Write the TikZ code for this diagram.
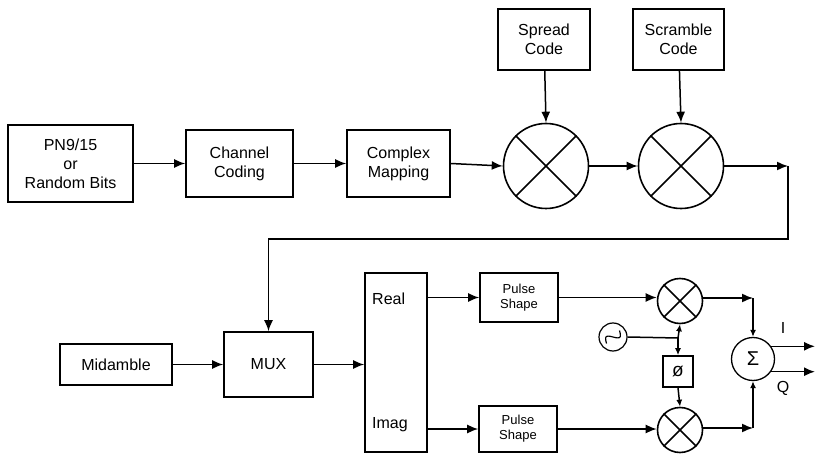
\documentclass[tikz,border=0pt]{standalone}
\usepackage{fontspec}
\setmainfont{Liberation Sans}
\usetikzlibrary{arrows.meta,calc}
\begin{document}
\begin{tikzpicture}[x=1pt,y=-1pt,
  box/.style={draw,line width=1.6pt,inner sep=0pt,align=center,font=\fontsize{16}{19}\selectfont},
  smallbox/.style={box,font=\fontsize{13}{15}\selectfont},
  mixer/.style={draw,circle,line width=1.6pt,inner sep=0pt},
  lbl/.style={font=\fontsize{16}{18}\selectfont,inner sep=0pt},
  arr/.style={line width=1.5pt,-{Latex[length=11pt,width=9pt]}},
  sarr/.style={line width=1.5pt,-{Latex[length=7pt,width=6pt]}},
  ln/.style={line width=1.5pt}]
\useasboundingbox (0,0) rectangle (816,454);

% top row
\node[box,minimum width=125pt,minimum height=77pt] (pn) at (70.5,163.5) {PN9/15\\or\\Random Bits};
\node[box,minimum width=107pt,minimum height=67pt] (cc) at (239.5,163.5) {Channel\\Coding};
\node[box,minimum width=103pt,minimum height=67pt] (cm) at (398.5,163.5) {Complex\\Mapping};
\node[box,minimum width=92pt,minimum height=61pt] (spread) at (544,39.5) {Spread\\Code};
\node[box,minimum width=91pt,minimum height=61pt] (scramble) at (678.5,39.5) {Scramble\\Code};
\node[mixer,minimum size=85pt] (m1) at (546,166) {};
\node[mixer,minimum size=85pt] (m2) at (681,166) {};

% bottom row
\node[box,minimum width=112pt,minimum height=41pt] (mid) at (116,364.5) {Midamble};
\node[box,minimum width=89pt,minimum height=65pt] (mux) at (268.5,364.5) {MUX};
\node[box,minimum width=62pt,minimum height=179pt] (big) at (396,362.5) {};
\node[lbl,anchor=west] (real) at (372,299) {Real};
\node[lbl,anchor=west] (imag) at (372,425) {Imag};
\node[smallbox,minimum width=78pt,minimum height=49pt] (ps1) at (519,297.5) {Pulse\\Shape};
\node[smallbox,minimum width=78pt,minimum height=46pt] (ps2) at (518,429) {Pulse\\Shape};
\node[mixer,minimum size=45pt] (mx3) at (680,301) {};
\node[mixer,minimum size=45pt] (mx4) at (680,430) {};
\node[mixer,line width=1.3pt,minimum size=43pt,font=\fontsize{20}{20}\selectfont] (sig) at (753,359) {Σ};
\node[mixer,line width=1.2pt,minimum size=28pt] (osc) at (613,337) {};
\node[box,minimum width=30pt,minimum height=31pt,font=\fontsize{19}{19}\selectfont] (ph) at (678,371.5) {ø};
\node[lbl] (ilbl) at (783,328) {I};
\node[lbl] (qlbl) at (783,388) {Q};

% mixer crosses
\foreach \m in {m1,m2,mx3,mx4}{
  \draw[line width=1.6pt] (\m.north west) -- (\m.south east);
  \draw[line width=1.6pt] (\m.south west) -- (\m.north east);
}
% oscillator wave (diagonal sine, lower-left to upper-right)
\draw[line width=1.2pt,shift={(osc.center)}] plot[domain=-1:1,samples=30,smooth]
  ({6.5*\x + 3.5*sin(180*\x)}, {-6.5*\x + 3.5*sin(180*\x)});

% coordinates
\coordinate (c1) at (788,166);
\coordinate (c2) at (788,239);
\coordinate (t3) at (753,298);
\coordinate (t4) at (753,428);
\coordinate (j) at (678,338);
\coordinate (oute) at (815,0);

% top connectors
\draw[arr] (pn) -- (cc);
\draw[arr] (cc) -- (cm);
\draw[arr] (cm.east) -- (m1.west);
\draw[arr] (m1.east) -- (m2.west);
\draw[arr] (spread) -- (m1.north);
\draw[arr] (scramble) -- (m2.north);
\draw[arr] (m2.east) -- (c1);
\draw[arr] (c1) -- (c2) -| (mux.north);

% bottom connectors
\draw[arr] (mid) -- (mux);
\draw[arr] (mux.east) -- (big.west |- mux.east);
\draw[arr] (big.east |- ps1.west) -- (ps1.west);
\draw[arr] (big.east |- ps2.west) -- (ps2.west);
\draw[arr] (ps1.east) -- (mx3.west |- ps1.east);
\draw[arr] (ps2.east) -- (mx4.west |- ps2.east);
\draw[arr] (mx3.east |- t3) -- (t3);
\draw[arr] (mx4.east |- t4) -- (t4);
\draw[sarr] (t3) -- (sig.north);
\draw[sarr] (t4) -- (sig.south);
\draw[ln] (osc.east) -- (j);
\draw[sarr] (j) -- (mx3.south);
\draw[sarr] (j) -- (ph.north);
\draw[sarr] (ph.south) -- (mx4.north);
\draw[arr] (sig.35) -- (sig.35 -| oute);
\draw[arr] (sig.-35) -- (sig.-35 -| oute);
\end{tikzpicture}
\end{document}
